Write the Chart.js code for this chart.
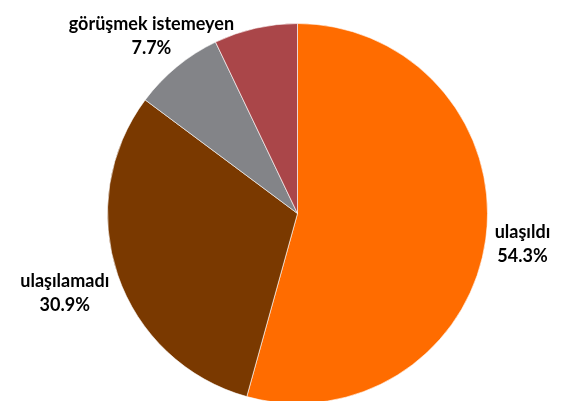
<!DOCTYPE html>
<html>
<head>
<meta charset="utf-8">
<script src="https://cdn.jsdelivr.net/npm/chart.js@4/dist/chart.umd.min.js"></script>
<style>
	html, body { margin: 0; padding: 0; background: #fff; overflow: hidden; }
	#wrap { width: 563px; height: 401px; overflow: hidden; }
</style>
</head>
<body>
<div id="wrap"><canvas id="pieChart" width="563" height="430"></canvas></div>
<script>
// chart data
var categories = ["ulaşıldı", "ulaşılamadı", "görüşmek istemeyen", "diğer"];
var shares = [54.3, 30.9, 7.7, 7.1];
var showLabel = [true, true, true, false];
var colours = ["#FF6C00", "#7A3900", "#838488", "#AA4649"];

var labelFont = "bold 18px Lato";
var lineGap = 24;

// draws the outside labels, the box edge sits a little off the rim
var outsideLabels = {
	id: "outsideLabels",
	afterDatasetsDraw(chart) {
		let ctx = chart.ctx;
		let arcs = chart.getDatasetMeta(0).data;
		let total = shares.reduce((a, b) => a + b, 0);
		ctx.save();
		ctx.font = labelFont;
		ctx.fillStyle = "#000";
		ctx.textAlign = "center";
		ctx.textBaseline = "middle";
		arcs.forEach((arc, i) => {
			if (!showLabel[i]) return;
			let lines = [categories[i], (shares[i] / total * 100).toFixed(1) + "%"];
			let hw = Math.max(...lines.map(t => ctx.measureText(t).width)) / 2;
			let hh = lineGap;
			let mid = (arc.startAngle + arc.endAngle) / 2;
			let c = Math.cos(mid), s = Math.sin(mid);
			let t = Math.min(hw / Math.abs(c || 1e-6), hh / Math.abs(s || 1e-6));
			let r = arc.outerRadius + 9 + t;
			let x = arc.x + r * c;
			let y = arc.y + r * s;
			ctx.fillText(lines[0], x, y - lineGap / 2);
			ctx.fillText(lines[1], x, y + lineGap / 2);
		});
		ctx.restore();
	}
};

var pie = new Chart(document.getElementById("pieChart"), {
	type: "pie",
	data: {
		labels: categories,
		datasets: [{
			data: shares,
			backgroundColor: colours,
			borderColor: "rgba(255,255,255,0.6)",
			borderWidth: 1
		}]
	},
	options: {
		responsive: false,
		animation: false,
		layout: { padding: { left: 107, right: 75, top: 23, bottom: 26 } },
		plugins: {
			legend: { display: false },
			tooltip: { enabled: false }
		}
	},
	plugins: [outsideLabels]
});
</script>
</body>
</html>
